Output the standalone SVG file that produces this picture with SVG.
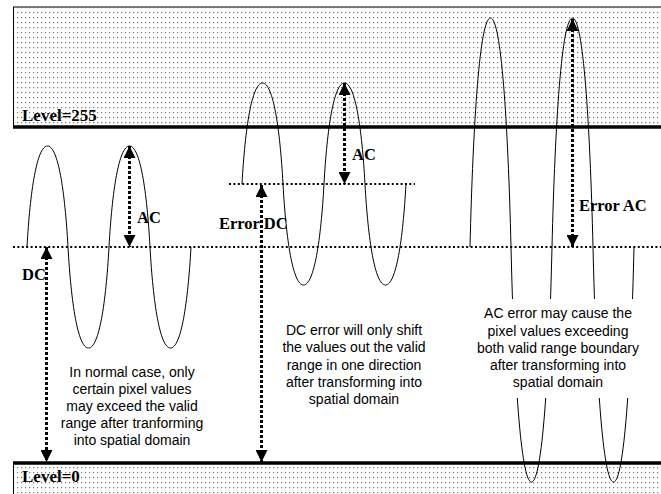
<svg xmlns="http://www.w3.org/2000/svg" width="661" height="494" viewBox="0 0 661 494">
<style>
.lvl{font-family:"Liberation Serif","Times New Roman",serif;font-weight:bold;font-size:17px;fill:#000}
.lab{font-family:"Liberation Serif","Times New Roman",serif;font-weight:bold;font-size:16.5px;fill:#000}
.note{font-family:"Liberation Sans",Arial,sans-serif;font-size:14px;fill:#000;text-anchor:middle}
.wave{fill:none;stroke:#000;stroke-width:1}
.dc{stroke:#000;stroke-width:2;stroke-dasharray:2 2.4;fill:none}
.arr{stroke:#000;stroke-width:3;stroke-dasharray:3 2;fill:none;marker-start:url(#ah);marker-end:url(#ah)}
.thick{stroke:#000;stroke-width:3.5}
</style>
<defs>
<pattern id="dots" width="4" height="5" patternUnits="userSpaceOnUse">
<rect x="1" y="2" width="1.2" height="1.2" fill="#777"/>
</pattern>
<marker id="ah" markerUnits="userSpaceOnUse" markerWidth="12" markerHeight="12" refX="12" refY="6" orient="auto-start-reverse" viewBox="0 0 12 12">
<path d="M0,0 L12,6 L0,12 z" fill="#000"/>
</marker>
<clipPath id="gap">
<rect x="0" y="0" width="661" height="299"/>
<rect x="0" y="398" width="661" height="96"/>
</clipPath>
</defs>
<rect width="661" height="494" fill="#fff"/>
<g id="upper-band">
<rect x="13" y="7" width="660" height="120" fill="url(#dots)"/>
<line x1="13" y1="7" x2="661" y2="7" stroke="#555" stroke-width="1.5"/>
<line x1="13.5" y1="7" x2="13.5" y2="127" stroke="#000" stroke-width="1"/>
<line class="thick" x1="13" y1="127" x2="661" y2="127"/>
<text class="lvl" x="22" y="121">Level=255</text>
</g>
<g id="lower-band">
<rect x="13" y="463" width="660" height="40" fill="url(#dots)"/>
<line x1="13.5" y1="463" x2="13.5" y2="494" stroke="#000" stroke-width="1"/>
<line class="thick" x1="13" y1="463" x2="661" y2="463"/>
<text class="lvl" x="22" y="482">Level=0</text>
</g>
<g id="dc-levels">
<line class="dc" x1="13" y1="247" x2="661" y2="247"/>
<line class="dc" x1="229" y1="184" x2="415" y2="184"/>
</g>
<g id="normal-wave">
<path class="wave" d="M27,247 c3.075,-55.55 9.84,-101 20.5,-101 c10.66,0 17.425,45.45 20.5,101 c3.075,55.55 9.84,101 20.5,101 c10.66,0 17.425,-45.45 20.5,-101 c3.075,-55.55 9.84,-101 20.5,-101 c10.66,0 17.425,45.45 20.5,101 c3.075,55.55 9.84,101 20.5,101 c10.66,0 17.425,-45.45 20.5,-101"/>
<text class="note" x="132" y="377">In normal case, only</text>
<text class="note" x="132" y="394">certain pixel values</text>
<text class="note" x="132" y="411">may exceed the valid</text>
<text class="note" x="132" y="428">range after tranforming</text>
<text class="note" x="132" y="445">into spatial domain</text>
</g>
<g id="dc-error-wave">
<path class="wave" d="M242,184 c3.075,-55.55 9.84,-101 20.5,-101 c10.66,0 17.425,45.45 20.5,101 c3.075,55.55 9.84,101 20.5,101 c10.66,0 17.425,-45.45 20.5,-101 c3.075,-55.55 9.84,-101 20.5,-101 c10.66,0 17.425,45.45 20.5,101 c3.075,55.55 9.84,101 20.5,101 c10.66,0 17.425,-45.45 20.5,-101"/>
<text class="note" x="354" y="335">DC error will only shift</text>
<text class="note" x="354" y="352">the values out the valid</text>
<text class="note" x="354" y="369.5">range in one direction</text>
<text class="note" x="354" y="387">after transforming into</text>
<text class="note" x="354" y="404">spatial domain</text>
</g>
<g id="ac-error-wave">
<path class="wave" clip-path="url(#gap)" d="M470,247 c3.075,-125.95 9.84,-229 20.5,-229 c10.66,0 17.425,103.05 20.5,229 c3.075,129.25 9.84,235 20.5,235 c10.66,0 17.425,-105.75 20.5,-235 c3.075,-125.95 9.84,-229 20.5,-229 c10.66,0 17.425,103.05 20.5,229 c3.075,129.25 9.84,235 20.5,235 c10.66,0 17.425,-105.75 20.5,-235"/>
<text class="note" x="558" y="318">AC error may cause the</text>
<text class="note" x="558" y="335.5">pixel values exceeding</text>
<text class="note" x="558" y="353">both valid range boundary</text>
<text class="note" x="558" y="370">after transforming into</text>
<text class="note" x="558" y="387">spatial domain</text>
</g>
<g id="connectors">
<line class="arr" x1="129.5" y1="146" x2="129.5" y2="247"/>
<line class="arr" x1="46.5" y1="247" x2="46.5" y2="462"/>
<line class="arr" x1="261.5" y1="185" x2="261.5" y2="462"/>
<line class="arr" x1="344.5" y1="83" x2="344.5" y2="184"/>
<line class="arr" x1="572.5" y1="19" x2="572.5" y2="247"/>
</g>
<g id="labels">
<text class="lab" x="137" y="223">AC</text>
<text class="lab" x="22" y="280">DC</text>
<text class="lab" x="219" y="229">Error DC</text>
<text class="lab" x="352" y="160">AC</text>
<text class="lab" x="579" y="211">Error AC</text>
</g>
</svg>
